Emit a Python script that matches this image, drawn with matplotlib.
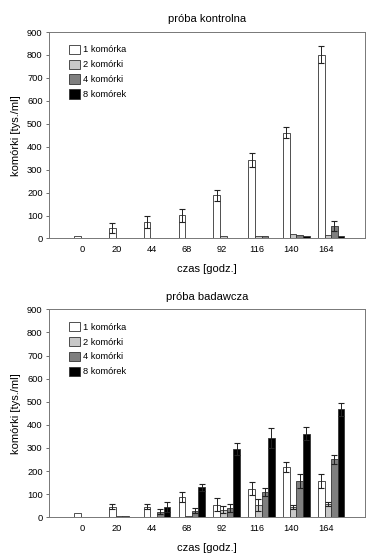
import numpy as np
import matplotlib
matplotlib.use('Agg')
import matplotlib.pyplot as plt
from matplotlib.patches import Patch

plt.rcParams['font.family'] = ['Liberation Sans', 'DejaVu Sans']

# time points (hours)
czas = ['0', '20', '44', '68', '92', '116', '140', '164']
serie = ['1 komórka', '2 komórki', '4 komórki', '8 komórek']
kolory = ['#ffffff', '#c8c8c8', '#7f7f7f', '#000000']

# control sample: means and errors
kontr_1 = [12, 44, 72, 101, 188, 342, 461, 802]
kontr_2 = [0, 0, 0, 0, 10, 10, 20, 15]
kontr_4 = [0, 0, 0, 0, 0, 12, 15, 53]
kontr_8 = [0, 0, 0, 0, 0, 0, 10, 10]
kontr_1_err = [0, 22, 27, 29, 23, 29, 25, 38]
kontr_2_err = [0, 0, 0, 0, 0, 0, 0, 0]
kontr_4_err = [0, 0, 0, 0, 0, 0, 0, 22]
kontr_8_err = [0, 0, 0, 0, 0, 0, 0, 0]

# test sample
bad_1 = [18, 46, 46, 87, 55, 124, 219, 157]
bad_2 = [0, 5, 0, 5, 33, 52, 45, 59]
bad_4 = [0, 6, 24, 29, 40, 110, 157, 251]
bad_8 = [0, 0, 45, 130, 296, 342, 362, 467]
bad_1_err = [0, 12, 12, 22, 27, 29, 22, 29]
bad_2_err = [0, 0, 0, 0, 15, 26, 10, 9]
bad_4_err = [0, 0, 10, 11, 16, 18, 29, 19]
bad_8_err = [0, 0, 20, 14, 27, 43, 29, 28]

fig = plt.figure(figsize=(3.87, 5.58), dpi=100)
ax1 = fig.add_axes([0.1266, 0.5726, 0.8165, 0.370])
ax2 = fig.add_axes([0.1266, 0.0729, 0.8165, 0.3728])

x = np.arange(len(czas))
w = 0.19


def rysuj(ax, vals, errs, title):
    for k, (v, e) in enumerate(zip(vals, errs)):
        e = np.array(e)
        ax.bar(x - 0.23 + k * w, v, width=w, align='edge', color=kolory[k],
               edgecolor='#333333', linewidth=0.6,
               yerr=np.where(e > 0, e, np.nan), capsize=2.3,
               error_kw=dict(ecolor='#222222', elinewidth=0.7, capthick=0.8))
    ax.set_xlim(-0.95, 8.12)
    ax.set_ylim(0, 900)
    ax.set_yticks(range(0, 901, 100))
    ax.set_xticks(x)
    ax.set_xticklabels(czas)
    ax.tick_params(axis='x', length=0, labelsize=6.7, pad=5)
    ax.tick_params(axis='y', length=2.5, width=0.6, labelsize=6.7, pad=2,
                   color='#555555')
    for s in ax.spines.values():
        s.set_color('#777777')
        s.set_linewidth(0.7)
    ax.set_title(title, fontsize=8, pad=7)
    ax.set_xlabel('czas [godz.]', fontsize=8, labelpad=7)
    ax.set_ylabel('komórki [tys./ml]', fontsize=8, labelpad=4)
    uchwyty = [Patch(facecolor=c, edgecolor='#333333', linewidth=0.6) for c in kolory]
    ax.legend(uchwyty, serie, loc='upper left', frameon=False, fontsize=6.7,
              handlelength=1.2, handleheight=1.15, handletextpad=0.3,
              labelspacing=0.55, borderpad=0.3, bbox_to_anchor=(0.04, 0.975))


rysuj(ax1, [kontr_1, kontr_2, kontr_4, kontr_8],
      [kontr_1_err, kontr_2_err, kontr_4_err, kontr_8_err], 'próba kontrolna')
rysuj(ax2, [bad_1, bad_2, bad_4, bad_8],
      [bad_1_err, bad_2_err, bad_4_err, bad_8_err], 'próba badawcza')

fig.savefig('out.png', dpi=100)
